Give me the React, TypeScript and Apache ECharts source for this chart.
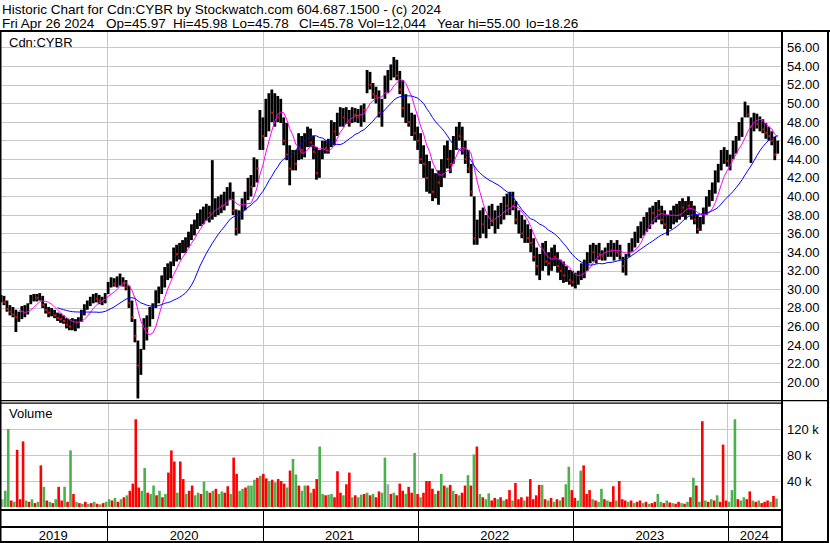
import React, { useEffect, useRef } from 'react';
import * as echarts from 'echarts';

// ---- Data (weekly) ----
const firstWeek = [2019, 3, 26]; // Friday Apr 26 2019
const lows = [
  28.6,28.3,27.6,27.2,27.0,25.4,26.5,26.8,27.0,27.3,
  28.4,28.7,28.7,28.8,28.0,27.4,27.0,27.1,26.9,26.6,
  26.4,26.3,25.8,25.6,25.6,25.5,25.8,26.5,27.2,27.8,
  28.2,28.5,28.6,28.4,28.3,28.5,29.5,30.2,30.3,30.2,
  30.4,30.3,29.9,28.0,26.5,24.3,18.26,20.8,23.5,24.5,
  26.0,26.8,28.0,28.5,29.5,30.2,31.0,31.2,32.5,33.0,
  33.2,33.9,33.9,34.5,35.3,35.8,36.5,36.8,37.0,37.4,
  37.2,37.5,37.8,38.0,38.2,38.5,39.0,39.6,38.0,35.8,
  36.0,37.5,38.5,39.6,40.0,41.0,41.5,45.0,45.0,46.4,
  47.0,48.0,47.5,48.0,47.9,45.5,43.9,41.2,42.8,42.8,
  43.9,44.0,44.2,45.3,45.3,44.0,41.8,42.0,44.0,44.6,
  44.6,45.3,45.5,46.5,47.5,47.5,47.8,47.5,47.9,48.0,
  47.9,47.5,48.0,51.1,51.5,50.5,50.0,48.5,47.5,50.5,
  51.1,52.5,52.8,52.5,51.0,48.5,47.9,47.5,46.5,46.0,
  45.0,43.5,42.0,40.5,40.3,39.5,39.8,39.1,41.0,42.0,
  43.0,42.5,43.5,45.0,46.0,44.5,43.5,42.5,40.0,34.8,
  34.8,35.5,36.0,35.5,36.5,36.8,36.0,36.5,37.0,37.5,
  38.0,38.0,38.5,37.0,36.0,35.5,35.0,35.0,34.0,33.0,
  31.5,31.0,32.0,32.5,31.5,32.0,32.5,31.8,31.0,30.7,
  30.8,30.5,30.3,30.1,30.5,31.0,31.2,32.0,32.8,33.0,
  32.8,33.2,33.1,33.1,33.5,33.5,33.1,33.5,33.2,31.8,
  31.5,33.5,34.0,34.5,35.0,35.5,35.8,36.2,36.5,37.0,
  37.2,37.5,37.0,36.5,35.8,36.5,37.0,37.2,37.5,37.8,
  37.5,38.0,37.5,37.0,36.0,36.3,37.0,38.0,38.9,39.5,
  40.3,41.5,42.8,43.5,43.2,42.8,44.0,44.6,46.0,46.4,
  48.5,48.5,43.6,47.0,47.3,47.0,46.8,46.2,46.0,45.5,43.9,44.6,
];
const highs = [
  29.4,29.3,28.8,28.3,28.1,27.8,27.6,28.2,28.3,28.5,
  29.4,29.5,29.5,29.6,29.3,28.5,28.1,28.0,27.8,27.5,
  27.4,27.2,26.9,26.8,26.9,26.8,27.0,27.8,28.4,28.8,
  29.2,29.5,29.6,29.4,29.2,29.6,30.8,31.3,31.2,31.4,
  31.7,31.3,31.0,30.4,28.8,26.8,24.5,23.6,26.9,27.2,
  28.1,28.5,29.9,30.3,31.5,32.4,32.8,33.0,34.5,34.8,
  35.0,35.3,35.6,36.2,37.0,37.5,38.2,38.6,38.9,39.2,
  39.0,43.9,39.8,40.0,40.2,40.5,41.0,41.5,40.5,38.6,
  38.5,39.8,40.5,42.0,42.3,44.2,44.0,49.3,48.5,50.5,
  51.1,51.5,51.1,50.8,50.5,48.5,47.9,45.5,45.0,45.0,
  46.8,46.5,46.8,47.5,47.3,46.5,45.3,45.0,46.0,46.0,
  46.2,48.2,48.0,49.0,49.6,49.5,49.6,49.3,49.6,49.5,
  49.4,49.8,50.0,53.6,53.4,52.2,51.8,51.4,50.5,53.0,
  53.6,54.2,55.0,54.7,53.5,52.5,51.0,50.0,49.0,48.8,
  47.5,46.8,45.5,44.5,43.8,43.0,42.5,42.8,44.0,45.5,
  46.0,45.0,46.5,47.5,48.0,47.5,46.0,45.0,43.5,40.0,
  37.5,38.5,38.8,38.0,39.0,39.2,38.5,39.0,39.3,40.0,
  40.3,40.5,40.5,39.5,38.5,38.0,37.5,37.0,36.5,35.5,
  34.5,33.8,35.0,35.2,34.0,34.5,34.8,34.0,33.2,33.0,
  32.5,32.1,32.0,31.8,32.0,32.8,33.2,34.0,34.8,35.0,
  34.8,35.0,34.2,34.5,35.0,35.3,35.0,35.3,34.8,33.5,
  33.8,35.0,35.5,36.2,36.8,37.3,37.8,38.3,38.8,39.0,
  39.4,39.6,39.0,38.5,38.0,38.5,39.0,39.2,39.5,39.8,
  39.5,40.0,39.5,39.0,38.0,37.8,38.8,40.0,40.7,41.5,
  42.8,43.5,45.0,45.3,45.0,44.5,46.0,46.5,48.0,48.5,
  50.2,49.8,48.5,49.0,48.9,48.6,48.3,47.9,47.5,47.0,46.4,46.0,
];
const closes = [
  29.0,28.6,27.9,27.6,27.3,27.0,27.0,27.9,28.0,28.3,
  29.0,29.2,29.1,29.3,28.3,27.8,27.5,27.6,27.2,26.9,
  26.8,26.6,26.2,26.0,26.3,26.5,26.8,27.5,28.1,28.5,
  28.9,29.2,29.0,28.8,28.9,29.3,30.5,30.8,30.6,31.0,
  31.2,30.7,30.2,28.5,27.0,25.0,21.8,22.8,26.0,25.8,
  27.5,28.2,29.5,29.8,31.0,32.0,32.2,32.6,34.0,33.8,
  34.6,34.8,35.2,35.8,36.5,37.2,37.8,38.0,38.5,38.6,
  38.2,39.0,39.2,39.5,39.0,40.0,40.5,40.9,38.5,36.5,
  38.0,39.3,40.0,41.5,41.0,43.5,43.0,48.0,46.5,49.5,
  50.0,49.0,50.5,48.5,49.5,46.0,44.5,43.0,44.5,43.5,
  46.0,45.0,46.3,46.8,45.8,44.8,42.5,44.5,45.5,45.2,
  45.8,47.5,47.0,48.3,49.0,48.5,49.2,48.0,49.0,48.8,
  48.5,49.5,49.3,52.8,52.0,51.0,50.8,49.0,50.0,52.5,
  53.0,53.5,54.5,53.0,51.5,49.5,50.2,48.0,48.5,46.8,
  46.0,44.0,43.5,42.0,43.0,40.5,42.0,41.5,43.5,44.8,
  44.0,43.5,46.0,47.0,46.5,45.0,44.0,43.0,40.5,35.5,
  36.8,38.0,37.0,37.5,38.5,37.5,38.0,38.2,39.0,39.5,
  39.0,39.8,39.0,37.5,37.5,36.0,36.8,35.5,35.0,33.5,
  32.5,33.0,34.2,33.0,32.8,34.0,33.5,32.5,32.0,31.5,
  32.0,31.0,30.8,31.5,31.5,32.5,32.8,33.5,34.2,34.0,
  34.5,33.8,33.6,34.0,34.6,34.2,34.8,34.0,33.8,32.5,
  33.5,34.5,35.2,35.8,36.5,36.8,37.5,37.8,38.5,38.2,
  39.0,38.5,37.5,37.0,37.5,38.0,38.5,38.5,39.0,38.8,
  39.2,39.0,38.0,37.5,36.5,37.5,38.5,39.5,40.2,41.0,
  42.0,43.0,44.5,44.8,43.8,44.0,45.5,46.2,47.2,48.0,
  49.5,48.8,47.5,48.5,47.8,48.0,47.2,46.8,46.5,46.0,44.5,45.78,
];
// volume of the tallest day in each week, thousands
const volumes = [
  12,25,120,10,8,88,12,101,10,8,
  12,6,8,64,31,10,8,6,12,31,
  10,31,8,87,20,8,6,5,8,5,
  6,8,5,4,6,8,12,10,14,8,
  12,15,18,25,36,135,30,25,60,22,
  20,33,18,25,15,20,53,87,70,22,
  70,43,20,25,33,18,22,20,39,25,
  22,25,28,20,24,22,32,20,76,51,
  25,28,30,33,33,42,45,48,51,44,
  40,42,38,43,40,36,30,56,74,50,
  33,25,33,33,22,28,43,93,20,18,
  19,20,15,55,22,18,35,53,15,18,
  15,19,20,22,18,20,15,24,22,76,
  35,20,22,18,36,25,20,31,22,83,
  20,15,22,40,40,28,20,25,51,33,
  30,34,25,20,18,22,33,49,33,81,
  93,20,15,12,21,10,14,12,15,10,
  12,26,10,37,12,15,10,16,43,12,
  18,34,34,12,10,14,8,12,10,15,
  35,62,26,14,10,56,64,20,26,12,
  10,8,28,12,10,8,32,10,40,12,
  10,8,10,6,8,10,6,8,5,6,
  8,20,8,6,10,7,6,5,8,6,
  5,8,15,45,33,8,132,10,8,12,
  10,18,8,96,10,8,26,135,12,10,
  15,12,24,10,8,10,6,8,10,8,17,13,
];
// 1 = up (green), 0 = down (red), 2 = unchanged (grey)
const volUp = [
  2,1,1,0,1,0,0,0,1,0, 1,0,1,0,1,0,1,0,1,0, 0,1,0,1,0,1,0,1,0,1,
  0,1,0,1,0,1,1,0,1,0, 1,0,1,0,0,0,0,1,1,0, 1,1,0,1,0,1,0,0,0,1,
  0,0,1,0,0,1,1,0,1,1, 0,1,0,1,1,0,0,1,0,0, 1,1,0,1,1,1,0,1,0,0,
  1,0,1,0,0,0,1,0,1,1, 0,1,1,0,1,0,0,1,1,0, 1,1,0,0,0,1,0,0,1,0,
  1,1,0,1,0,1,0,0,1,1, 2,0,1,0,0,0,1,0,0,1, 0,1,0,0,0,0,1,0,1,0,
  1,0,1,0,1,0,0,1,0,1, 0,1,0,1,1,0,0,1,0,1, 0,0,1,0,0,0,1,0,0,0,
  0,0,1,0,1,0,1,0,1,0, 1,1,0,0,1,1,0,0,0,1, 0,1,1,0,1,0,0,1,0,0,
  0,1,0,1,0,0,1,0,1,0, 0,1,1,0,1,0,1,0,0,1, 0,1,0,1,0,1,0,1,0,1,
  0,1,0,0,0,1,1,1,0,1, 1,0,0,1,0,1,0,0,0,1,0,1,
];
const years = [2019, 2020, 2021, 2022, 2023, 2024];
const priceTicks = { min: 18, max: 58, step: 2 };
const volTicks = { min: 0, max: 160000, step: 40000 };
const maShort = 7; // weeks (magenta)
const maLong = 20; // weeks (blue)

const FONT = '"Liberation Sans", Arial, Helvetica, sans-serif';
const DAY = 86400000;

function sma(vals: number[], n: number) {
  return vals.map((_, i) => {
    if (i < n - 1) return null;
    let s = 0;
    for (let k = i - n + 1; k <= i; k++) s += vals[k];
    return +(s / n).toFixed(3);
  });
}

export default function App() {
  const ref = useRef<HTMLDivElement>(null);
  useEffect(() => {
    const chart = echarts.init(ref.current!, null, { renderer: 'svg' });
    const t0 = new Date(firstWeek[0], firstWeek[1], firstWeek[2]).getTime();
    const dates = closes.map((_, i) => t0 + i * 7 * DAY);
    const axMin = t0;
    const axMax = new Date(2024, 4, 6).getTime();
    const yearStarts = years.slice(1).map((y) => [new Date(y, 0, 1).getTime(), 0]);
    const yearMids = years.map((y) => {
      const a = Math.max(new Date(y, 0, 1).getTime(), axMin);
      const b = Math.min(new Date(y + 1, 0, 1).getTime(), axMax);
      return [(a + b) / 2, 0];
    });
    const short = sma(closes, maShort);
    const long = sma(closes, maLong);

    const vline = (color: string) => (params: any, api: any) => {
      const x = Math.round(api.coord([api.value(0), 0])[0]) + 0.5;
      const cs = params.coordSys;
      return {
        type: 'line',
        shape: { x1: x, y1: cs.y, x2: x, y2: cs.y + cs.height },
        style: { stroke: color, lineWidth: 1 },
      };
    };

    const txt = (text: string, x: number, y: number, size = 13) => ({
      type: 'text', x, y, z: 101,
      style: { text, fill: '#000', font: `${size}px ${FONT}`, textVerticalAlign: 'middle' },
    });
    const bar = (x: number, y: number, w: number, h: number) => ({
      type: 'rect', z: 100, shape: { x, y, width: w, height: h }, style: { fill: '#000' },
    });

    const xAxisBase = { type: 'time', min: axMin, max: axMax, show: false };
    const option: any = {
      animation: false,
      backgroundColor: '#fff',
      grid: [
        { left: 1, right: 48, top: 29.1, bottom: 142.1 },
        { left: 1, right: 48, top: 403, bottom: 36 },
        { left: 1, right: 48, top: 509, bottom: 1 },
      ],
      xAxis: [
        { ...xAxisBase, gridIndex: 0 },
        { ...xAxisBase, gridIndex: 1 },
        { ...xAxisBase, gridIndex: 2 },
      ],
      yAxis: [
        {
          gridIndex: 0, type: 'value', position: 'right',
          min: priceTicks.min, max: priceTicks.max, interval: priceTicks.step,
          axisLine: { show: false }, axisTick: { show: false },
          axisLabel: {
            formatter: (v: number) => v.toFixed(2), color: '#000',
            fontFamily: FONT, fontSize: 13, margin: 5,
            showMinLabel: false, showMaxLabel: false,
          },
          splitLine: { show: true, showMinLine: false, showMaxLine: false, lineStyle: { color: '#c8c8c8', width: 1 } },
        },
        {
          gridIndex: 1, type: 'value', position: 'right',
          min: volTicks.min, max: volTicks.max, interval: volTicks.step,
          axisLine: { show: false }, axisTick: { show: false },
          axisLabel: {
            formatter: (v: number) => `${v / 1000} k`, color: '#000',
            fontFamily: FONT, fontSize: 13, margin: 5,
            showMinLabel: false, showMaxLabel: false,
          },
          splitLine: { show: true, showMinLine: false, showMaxLine: false, lineStyle: { color: '#c8c8c8', width: 1 } },
        },
        { gridIndex: 2, type: 'value', min: 0, max: 1, show: false },
      ],
      series: [
        { type: 'custom', xAxisIndex: 0, yAxisIndex: 0, z: 1, silent: true, data: yearStarts, renderItem: vline('#c8c8c8') },
        { type: 'custom', xAxisIndex: 1, yAxisIndex: 1, z: 1, silent: true, data: yearStarts, renderItem: vline('#c8c8c8') },
        { type: 'custom', xAxisIndex: 2, yAxisIndex: 2, z: 1, silent: true, data: yearStarts, renderItem: vline('#000') },
        {
          type: 'custom', xAxisIndex: 2, yAxisIndex: 2, z: 2, silent: true, data: yearMids,
          renderItem: (params: any, api: any) => {
            const x = api.coord([api.value(0), 0])[0];
            const cs = params.coordSys;
            return {
              type: 'text', x: x - 1, y: cs.y + cs.height - 7,
              style: {
                text: String(years[params.dataIndex]), fill: '#000', font: `13px ${FONT}`,
                textAlign: 'center', textVerticalAlign: 'middle',
              },
            };
          },
        },
        {
          type: 'custom', name: 'Price', xAxisIndex: 0, yAxisIndex: 0, z: 3, silent: true,
          data: dates.map((d, i) => [d, lows[i], highs[i], closes[i]]),
          encode: { x: 0, y: [1, 2, 3] },
          renderItem: (params: any, api: any) => {
            const t = api.value(0);
            const hi = api.coord([t, api.value(2)]);
            const lo = api.coord([t, api.value(1)]);
            const cl = api.coord([t, api.value(3)]);
            const i = params.dataIndex;
            const children: any[] = [
              { type: 'rect', shape: { x: hi[0] - 1.4, y: hi[1], width: 2.8, height: Math.max(1, lo[1] - hi[1]) }, style: { fill: '#000' } },
            ];
            if (i > 0 && closes[i] < closes[i - 1]) {
              children.push({ type: 'rect', shape: { x: hi[0] - 0.5, y: cl[1] - 1, width: 2, height: 2 }, style: { fill: '#ff0000' } });
            }
            return { type: 'group', children };
          },
        },
        {
          type: 'line', name: 'MA short', xAxisIndex: 0, yAxisIndex: 0, z: 4, silent: true,
          showSymbol: false, data: dates.map((d, i) => [d, short[i]]),
          lineStyle: { color: '#ff00ff', width: 1 }, itemStyle: { color: '#ff00ff' },
        },
        {
          type: 'line', name: 'MA long', xAxisIndex: 0, yAxisIndex: 0, z: 4, silent: true,
          showSymbol: false, data: dates.map((d, i) => [d, long[i]]),
          lineStyle: { color: '#0000ff', width: 1 }, itemStyle: { color: '#0000ff' },
        },
        {
          type: 'bar', name: 'Volume', xAxisIndex: 1, yAxisIndex: 1, z: 3, silent: true,
          barWidth: 2.6,
          data: dates.map((d, i) => ({
            value: [d, volumes[i] * 1000],
            itemStyle: { color: volUp[i] === 1 ? '#4cb04c' : volUp[i] === 0 ? '#ff0000' : '#a8a8a8' },
          })),
        },
      ],
      graphic: [
        { type: 'rect', z: 90, shape: { x: 0, y: 0, width: 830, height: 30 }, style: { fill: '#fff' } },
        txt('Historic Chart for Cdn:CYBR by Stockwatch.com 604.687.1500 - (c) 2024', 2, 9, 13.5),
        txt('Fri Apr 26 2024', 2, 23, 13.5),
        txt('Op=45.97', 106, 23, 13.5),
        txt('Hi=45.98', 173, 23, 13.5),
        txt('Lo=45.78', 232, 23, 13.5),
        txt('Cl=45.78', 299, 23, 13.5),
        txt('Vol=12,044', 358, 23, 13.5),
        txt('Year hi=55.00', 437, 23, 13.5),
        txt('lo=18.26', 526, 23, 13.5),
        txt('Cdn:CYBR', 9, 42),
        txt('Volume', 9, 413),
        bar(0, 30, 830, 2),
        bar(0, 30, 1.5, 513),
        bar(781, 30, 2, 513),
        bar(827, 30, 2, 513),
        bar(0, 400, 829, 1.2),
        bar(0, 402.6, 782, 1.2),
        bar(0, 509, 782, 2),
        bar(0, 526, 782, 2),
        bar(0, 541, 829, 2),
      ],
    };
    chart.setOption(option);
    return () => chart.dispose();
  }, []);
  return <div ref={ref} style={{ position: 'absolute', left: 0, top: 0, width: 830, height: 543 }} />;
}
